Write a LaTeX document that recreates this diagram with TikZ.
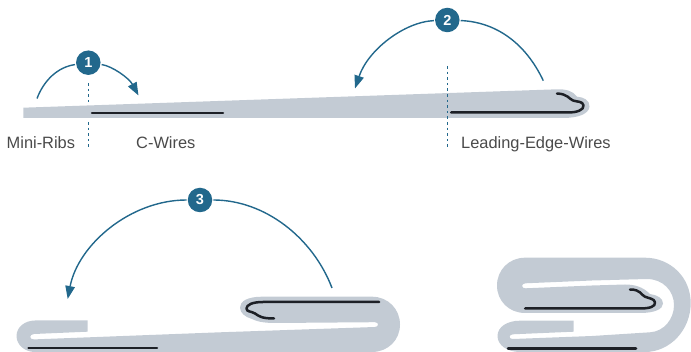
\documentclass[tikz,border=0pt]{standalone}
\usepackage{fontspec}
\setmainfont{Liberation Sans}
\usetikzlibrary{arrows.meta}
\definecolor{wing}{HTML}{C3CBD4}
\definecolor{teal}{HTML}{22688C}
\definecolor{wire}{HTML}{1D2026}
\definecolor{lab}{HTML}{4A4A4A}
\tikzset{
 x=1pt,y=-1pt,
 wingfill/.style={fill=wing,draw=none},
 wireline/.style={draw=wire,line width=2.5pt,line cap=round,line join=round},
 fold/.style={draw=teal,line width=1.4pt,-{Triangle[length=13pt,width=9.5pt]}},
 badge/.style={circle,fill=teal,text=white,minimum size=24.5pt,inner sep=0pt,outer sep=1.2pt,font=\bfseries\fontsize{14.5}{14.5}\selectfont},
 guide/.style={draw=teal,line width=1.1pt,dash pattern=on 2.6pt off 3pt},
 lbl/.style={text=lab,inner sep=0pt,font=\fontsize{16.4}{18}\selectfont}
}
\begin{document}
\begin{tikzpicture}
\useasboundingbox (0,0) rectangle (691,352);
% stage 1 wing
\fill[wingfill] (23.3,107.7) -- (557,89.3) .. controls (566,89) and (573,91) .. (577,96.7) .. controls (583,97) and (590,100) .. (589.5,106.5) .. controls (589,114) and (578,118) .. (563,118) -- (23.3,118) -- cycle;
\draw[wireline] (92,113) -- (223,113);
\draw[wireline] (451,112.5) -- (568,112.5) .. controls (577,112.5) and (584,110) .. (583.5,105.5) .. controls (583,101) and (577,102) .. (573,100.5) .. controls (569,99) and (568,94) .. (557,93.5);
% stage 3
\fill[wingfill] (35,320.5) -- (87.5,320.5) -- (87.5,331.7) -- (34,334) .. controls (29,334.3) and (29,339.6) .. (34,339.4) -- (220,332.3) -- (375,327) .. controls (379,327) and (379,322.2) .. (375,322.2) -- (275,323) .. controls (262,323) and (256,321) .. (252,319) .. controls (245,317) and (240,313) .. (240,307.5) .. controls (240,301) and (248,296.7) .. (262,296.7) -- (372,296.7) .. controls (388,296.7) and (400,309) .. (400,324.5) .. controls (400,340) and (388,352) .. (372,352) -- (35,352) .. controls (25,352) and (16.5,345) .. (16.5,336) .. controls (16.5,327) and (25,320.5) .. (35,320.5) -- cycle;
\draw[wireline] (28.5,348) -- (157,348);
\draw[wireline] (379,302) -- (263,302) .. controls (252,302) and (246.5,305) .. (246.5,308.5) .. controls (246.5,312) and (251,311) .. (255,313.5) .. controls (259,316) and (261,318.5) .. (274,318.5);
% stage 4
\fill[wingfill] (525,257.7) -- (645,257.7) .. controls (670,257.7) and (690.7,277) .. (690.7,303) .. controls (690.7,330) and (670,352) .. (645,352) -- (520,352) .. controls (507,352) and (497.5,345) .. (497.5,336) .. controls (497.5,327) and (507,320.7) .. (520,320.7) -- (573.7,320.7) -- (573.7,331.7) -- (513,334.3) .. controls (508.5,334.6) and (508.5,339.3) .. (513,339) -- (592,336) -- (650,332.3) .. controls (664,331.5) and (674,319) .. (674,305) .. controls (674,291) and (663,279) .. (647,279) -- (592,280.5) -- (525.5,283.3) .. controls (521,283.5) and (521,288.5) .. (525.5,288.3) -- (592,285.5) -- (625,284.5) .. controls (635,284.5) and (643,287) .. (650,294) .. controls (657,295) and (663,298) .. (663,303.5) .. controls (663,309) and (655,313) .. (640,313) -- (525,313) .. controls (509,313) and (497,301) .. (497,285.5) .. controls (497,270) and (509,257.7) .. (525,257.7) -- cycle;
\draw[wireline] (525,308.5) -- (640,308.5) .. controls (650,308.5) and (655.5,306.5) .. (655,302.5) .. controls (654.5,298.5) and (649,298.5) .. (645,296.7) .. controls (641,295) and (641,289.5) .. (630,289.5);
\draw[wireline] (508,348.3) -- (636,348.3);
% guides
\coordinate (g1a) at (88.4,83); \coordinate (g1b) at (88.4,105);
\coordinate (g1c) at (88.4,122); \coordinate (g1d) at (88.4,148);
\coordinate (g2a) at (447.4,66); \coordinate (g2b) at (447.4,148);
\draw[guide] (g1a) -- (g1b);
\draw[guide] (g1c) -- (g1d);
\draw[guide] (g2a) -- (g2b);
% badges
\node[badge] (b1) at (88.3,62.7) {1};
\node[badge] (b2) at (447.3,20) {2};
\node[badge] (b3) at (200,200) {3};
% fold arrows
\coordinate (s1) at (37,98.5); \coordinate (e1) at (138.5,95.5);
\coordinate (s2) at (543.3,80.7); \coordinate (e2) at (355,88.5);
\coordinate (s3) at (332,288); \coordinate (e3) at (67.7,299);
\draw[fold,-] (s1) .. controls (44,80) and (58,67) .. (b1);
\draw[fold] (b1) .. controls (112,66) and (129,78) .. (e1);
\draw[fold,-] (s2) .. controls (525,42) and (495,22) .. (b2);
\draw[fold] (b2) .. controls (404,22) and (368,50) .. (e2);
\draw[fold,-] (s3) .. controls (313,238) and (265,200) .. (b3);
\draw[fold] (b3) .. controls (130,200) and (78,245) .. (e3);
% labels
\node[lbl,anchor=base west] (l1) at (6.5,149) {Mini-Ribs};
\node[lbl,anchor=base west] (l2) at (136,149) {C-Wires};
\node[lbl,anchor=base west] (l3) at (461,149) {Leading-Edge-Wires};
\end{tikzpicture}
\end{document}
